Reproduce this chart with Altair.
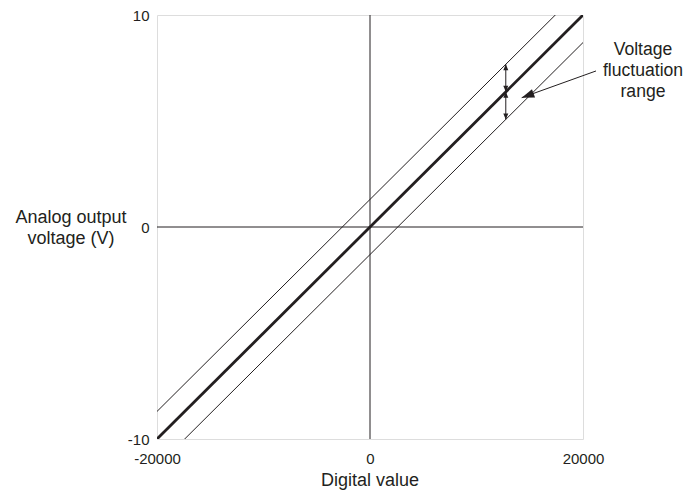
import altair as alt
import pandas as pd

# ---- data ----
digital = [-20000, 20000]
center_v = [-10, 10]
upper_v = [-8.7, 11.3]
lower_v = [-11.3, 8.7]

x_ticks = [-20000, 0, 20000]
y_ticks = [-10, 0, 10]

# double-headed arrows showing the fluctuation range
arrow_x = [12750, 12750]
arrow_top = [7.675, 6.375]
arrow_bot = [6.375, 5.075]
head_up_y = [7.675, 6.375]
head_down_y = [6.375, 5.075]

# pointer from the label to the range
pointer_x = [21221, 14244]
pointer_y = [7.36, 6.10]

y_title = ["Analog output", "voltage (V)"]
x_title = "Digital value"
note = ["Voltage", "fluctuation", "range"]

FONT = "Liberation Sans"
INK = "#231f20"

xs = alt.Scale(domain=[-20000, 20000], nice=False, zero=False)
ys = alt.Scale(domain=[-10, 10], nice=False, zero=False)
xa = alt.Axis(title=None, values=x_ticks, grid=False, ticks=False, domain=False,
              labelFontSize=15, labelPadding=12, labelFlush=False, labelColor=INK,
              labelFont=FONT, labelExpr="'' + datum.value")
ya = alt.Axis(title=None, values=y_ticks, grid=False, ticks=False, domain=False,
              labelFontSize=15, labelPadding=8, labelFlush=False, labelColor=INK,
              labelFont=FONT, labelExpr="'' + datum.value")

lines_df = pd.DataFrame({"x": digital, "c": center_v, "u": upper_v, "l": lower_v})

center = alt.Chart(lines_df).mark_line(color=INK, strokeWidth=2.8, clip=True).encode(
    x=alt.X("x:Q", scale=xs, axis=xa), y=alt.Y("c:Q", scale=ys, axis=ya))
upper = alt.Chart(lines_df).mark_line(color=INK, strokeWidth=1, clip=True).encode(
    x=alt.X("x:Q", scale=xs, axis=xa), y=alt.Y("u:Q", scale=ys, axis=ya))
lower = alt.Chart(lines_df).mark_line(color=INK, strokeWidth=1, clip=True).encode(
    x=alt.X("x:Q", scale=xs, axis=xa), y=alt.Y("l:Q", scale=ys, axis=ya))

zero_df = pd.DataFrame({"v": [0]})
vzero = alt.Chart(zero_df).mark_rule(color=INK, strokeWidth=1).encode(
    x=alt.X("v:Q", scale=xs, axis=xa))
hzero = alt.Chart(zero_df).mark_rule(color=INK, strokeWidth=1).encode(
    y=alt.Y("v:Q", scale=ys, axis=ya))

arr_df = pd.DataFrame({"x": arrow_x, "y1": arrow_top, "y2": arrow_bot,
                       "hu": head_up_y, "hd": head_down_y})
arr_rule = alt.Chart(arr_df).mark_rule(color=INK, strokeWidth=1).encode(
    x=alt.X("x:Q", scale=xs, axis=xa), y=alt.Y("y1:Q", scale=ys, axis=ya), y2="y2:Q")
head_up = alt.Chart(arr_df).mark_point(
    shape="M0,0L-1,2.4L1,2.4Z", filled=True, size=25, color=INK, opacity=1).encode(
    x=alt.X("x:Q", scale=xs, axis=xa), y=alt.Y("hu:Q", scale=ys, axis=ya))
head_down = alt.Chart(arr_df).mark_point(
    shape="M0,0L-1,-2.4L1,-2.4Z", filled=True, size=25, color=INK, opacity=1).encode(
    x=alt.X("x:Q", scale=xs, axis=xa), y=alt.Y("hd:Q", scale=ys, axis=ya))

ptr_df = pd.DataFrame({"x": pointer_x, "y": pointer_y})
ptr_line = alt.Chart(ptr_df).mark_line(color=INK, strokeWidth=1, clip=False).encode(
    x=alt.X("x:Q", scale=xs, axis=xa), y=alt.Y("y:Q", scale=ys, axis=ya))
ptr_head = alt.Chart(ptr_df.tail(1)).mark_point(
    shape="M0,0L-1,2.8L1,2.8Z", filled=True, size=81, angle=250, color=INK, opacity=1).encode(
    x=alt.X("x:Q", scale=xs, axis=xa), y=alt.Y("y:Q", scale=ys, axis=ya))

ytitle = alt.Chart(zero_df).mark_text(
    text=y_title, font=FONT, fontSize=18, color=INK, align="center",
    baseline="alphabetic", lineHeight=21).encode(x=alt.value(-86), y=alt.value(208))
xtitle = alt.Chart(zero_df).mark_text(
    text=x_title, font=FONT, fontSize=18, color=INK, align="center",
    baseline="alphabetic").encode(x=alt.value(213), y=alt.value(471))
note_t = alt.Chart(zero_df).mark_text(
    text=note, font=FONT, fontSize=17.6, color=INK, align="center",
    baseline="alphabetic", lineHeight=21).encode(x=alt.value(486), y=alt.value(40))

chart = alt.layer(
    vzero, hzero, upper, lower, center, arr_rule, head_up, head_down,
    ptr_line, ptr_head, ytitle, xtitle, note_t
).properties(
    width=426, height=424,
    autosize=alt.AutoSizeParams(type="none"),
    padding={"left": 149, "top": 7, "right": 101, "bottom": 51},
).configure_view(
    stroke="#111111", strokeWidth=1.5
).configure(background="white")

chart.save("out.html", embed_options={"renderer": "svg", "actions": False})
